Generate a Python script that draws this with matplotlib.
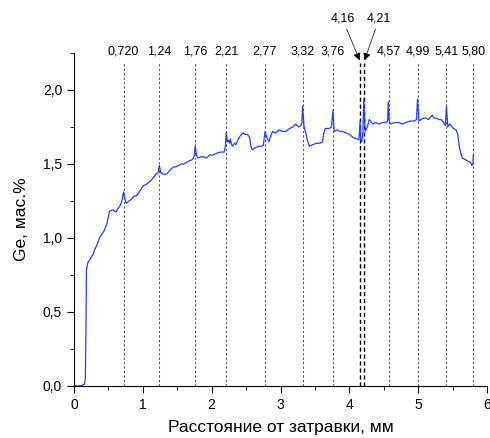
import matplotlib.pyplot as plt
import numpy as np
from matplotlib.ticker import MultipleLocator, FuncFormatter

plt.rcParams['font.family'] = ['Liberation Sans', 'DejaVu Sans']

# profile (distance, mm / Ge, wt.%)
dist = [0.00, 0.10, 0.15, 0.165, 0.175, 0.18, 0.20, 0.25, 0.28, 0.30, 0.34, 0.37,
        0.41, 0.44, 0.48, 0.515, 0.56, 0.61, 0.64, 0.66, 0.69, 0.72, 0.74, 0.76,
        0.80, 0.83, 0.87, 0.92, 0.96, 1.00, 1.04, 1.10, 1.14, 1.19, 1.22, 1.24,
        1.26, 1.30, 1.34, 1.38, 1.42, 1.45, 1.48, 1.52, 1.56, 1.60, 1.63, 1.67,
        1.72, 1.745, 1.76, 1.78, 1.80, 1.86, 1.92, 1.97, 2.02, 2.06, 2.12, 2.18,
        2.20, 2.21, 2.23, 2.24, 2.26, 2.27, 2.29, 2.30, 2.33, 2.35, 2.40, 2.45,
        2.49, 2.52, 2.55, 2.57, 2.59, 2.63, 2.69, 2.73, 2.75, 2.775, 2.80, 2.83,
        2.86, 2.885, 2.93, 2.98, 3.03, 3.08, 3.13, 3.18, 3.22, 3.26, 3.30, 3.31,
        3.32, 3.34, 3.37, 3.39, 3.42, 3.47, 3.52, 3.57, 3.61, 3.63, 3.65, 3.71,
        3.74, 3.76, 3.78, 3.82, 3.86, 3.90, 3.95, 4.00, 4.05, 4.10, 4.14, 4.155,
        4.165, 4.18, 4.195, 4.21, 4.23, 4.26, 4.29, 4.34, 4.38, 4.43, 4.48, 4.53,
        4.555, 4.565, 4.58, 4.60, 4.66, 4.72, 4.77, 4.82, 4.88, 4.94, 4.975, 4.99,
        5.01, 5.04, 5.08, 5.11, 5.15, 5.20, 5.23, 5.26, 5.30, 5.33, 5.37, 5.395,
        5.41, 5.43, 5.455, 5.475, 5.51, 5.55, 5.575, 5.595, 5.62, 5.64, 5.68,
        5.72, 5.76, 5.78, 5.795, 5.80]
ge = [0.00, 0.00, 0.01, 0.05, 0.45, 0.78, 0.83, 0.87, 0.89, 0.92, 0.96, 1.00,
      1.03, 1.05, 1.10, 1.18, 1.19, 1.175, 1.20, 1.21, 1.24, 1.31, 1.26, 1.235,
      1.25, 1.26, 1.28, 1.29, 1.32, 1.35, 1.36, 1.38, 1.40, 1.43, 1.44, 1.49,
      1.44, 1.43, 1.43, 1.45, 1.47, 1.48, 1.48, 1.49, 1.50, 1.50, 1.51, 1.52,
      1.53, 1.55, 1.62, 1.56, 1.54, 1.55, 1.54, 1.56, 1.56, 1.57, 1.58, 1.58,
      1.62, 1.71, 1.65, 1.66, 1.64, 1.67, 1.63, 1.62, 1.64, 1.63, 1.68, 1.71,
      1.70, 1.70, 1.68, 1.62, 1.595, 1.61, 1.62, 1.62, 1.625, 1.72, 1.68, 1.65,
      1.69, 1.72, 1.71, 1.73, 1.72, 1.72, 1.74, 1.75, 1.77, 1.75, 1.76, 1.78,
      1.89, 1.76, 1.70, 1.66, 1.62, 1.63, 1.64, 1.64, 1.65, 1.71, 1.74, 1.74,
      1.75, 1.86, 1.72, 1.73, 1.72, 1.72, 1.71, 1.70, 1.68, 1.67, 1.665, 1.79,
      1.66, 1.65, 1.70, 1.94, 1.72, 1.75, 1.80, 1.77, 1.78, 1.77, 1.78, 1.78,
      1.79, 1.92, 1.79, 1.77, 1.78, 1.78, 1.77, 1.78, 1.79, 1.79, 1.80, 1.94,
      1.79, 1.80, 1.81, 1.81, 1.80, 1.83, 1.81, 1.81, 1.80, 1.80, 1.78, 1.76,
      1.89, 1.75, 1.77, 1.76, 1.74, 1.73, 1.70, 1.62, 1.57, 1.54, 1.53,
      1.52, 1.51, 1.49, 1.50, 1.56]

# marked positions
marks = [0.72, 1.24, 1.76, 2.21, 2.77, 3.32, 3.76, 4.57, 4.99, 5.41, 5.80]
mark_labels = ['0,720', '1,24', '1,76', '2,21', '2,77', '3,32', '3,76',
               '4,57', '4,99', '5,41', '5,80']
close_marks = [4.16, 4.21]
close_labels = ['4,16', '4,21']

fig = plt.figure(figsize=(4.9, 4.38), dpi=100)
ax = fig.add_axes([0.151, 0.119, 0.843, 0.760])

line_top = 2.18
for xm, lab in zip(marks, mark_labels):
    ax.plot([xm, xm], [0, line_top], color='#555555', lw=0.8, ls=(0, (2, 2)))
    ax.text(xm, 2.22, lab, ha='center', va='bottom', fontsize=9)
for xm in close_marks:
    ax.plot([xm, xm], [0, line_top], color='black', lw=1.0, ls=(0, (3, 2)))

arrow = dict(arrowstyle='-|>', color='black', lw=0.5, mutation_scale=11,
             shrinkA=1, shrinkB=0)
ax.annotate(close_labels[0], xy=(close_marks[0] - 0.01, 2.20), xytext=(3.90, 2.44),
            ha='center', va='bottom', fontsize=9, annotation_clip=False,
            arrowprops=arrow)
ax.annotate(close_labels[1], xy=(close_marks[1] + 0.01, 2.20), xytext=(4.43, 2.44),
            ha='center', va='bottom', fontsize=9, annotation_clip=False,
            arrowprops=arrow)

ax.plot(dist, ge, color='#2040ff', lw=0.9)

ax.set_xlim(0, 6)
ax.set_ylim(0, 2.25)
ax.spines['top'].set_visible(False)
ax.spines['right'].set_visible(False)
ax.xaxis.set_major_locator(MultipleLocator(1))
ax.xaxis.set_minor_locator(MultipleLocator(0.5))
ax.yaxis.set_major_locator(MultipleLocator(0.5))
ax.yaxis.set_minor_locator(MultipleLocator(0.25))
ax.yaxis.set_major_formatter(FuncFormatter(lambda v, p: f'{v:.1f}'.replace('.', ',')))
ax.tick_params(which='major', length=5, labelsize=10)
ax.tick_params(which='minor', length=3)
ax.set_xlabel('Расстояние от затравки, мм', fontsize=12.5, labelpad=6)
ax.set_ylabel('Ge, мас.%', fontsize=12.5, labelpad=10)

fig.savefig('out.png', dpi=100)
